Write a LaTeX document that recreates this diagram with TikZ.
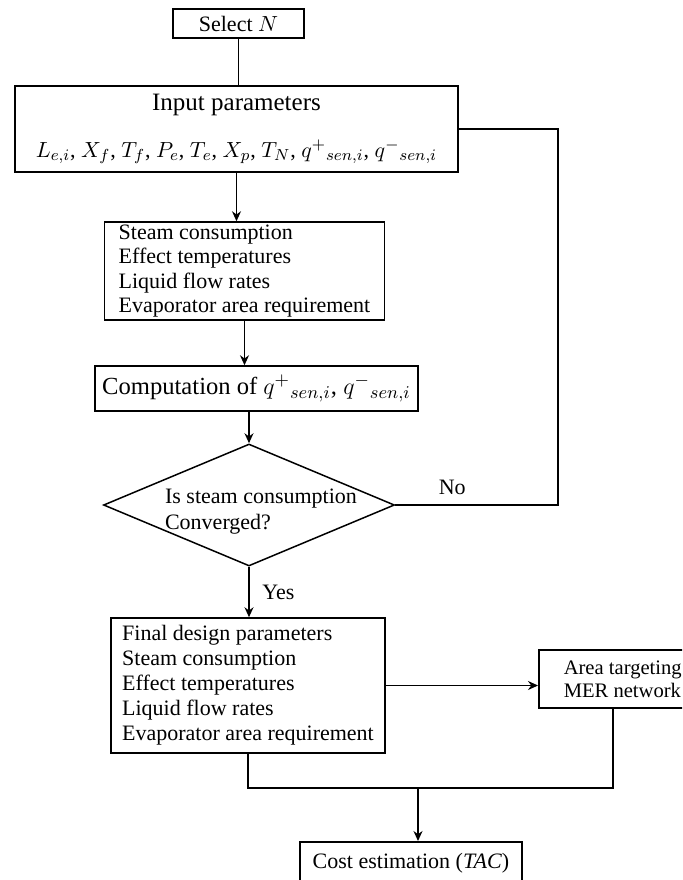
\documentclass[tikz,border=0pt]{standalone}
\usepackage{fontspec}
\setmainfont{Liberation Serif}
\usetikzlibrary{arrows.meta,shapes.geometric}

\tikzset{
  box/.style={draw,line width=0.75pt,inner sep=0pt},
  txtbox/.style={draw,line width=0.75pt,align=left,inner xsep=6.5pt,inner ysep=0pt},
  arr/.style={-{Stealth[length=5pt,width=4.5pt]},line width=0.75pt},
  con/.style={line width=0.75pt},
  lbl/.style={font=\fontsize{11}{13}\selectfont}
}

\begin{document}
\begin{tikzpicture}[x=0.5pt,y=-0.5pt]
          \clip (0,0) rectangle (682,880);
          \node[box,minimum width=65.5pt,minimum height=14.5pt,lbl] (sel) at (238.5,23.5) {Select $N$};
          \node[box,minimum width=221.5pt,minimum height=43pt,align=center,font=\fontsize{11}{23.5}\selectfont] (inp) at (236.5,129)
            {{\fontsize{12.5}{15}\selectfont Input parameters}\\ $L_{e,i}$,\ $X_f$,\ $T_f$,\ $P_e$,\ $T_e$,\ $X_p$,\ $T_N$,\ $q^{+}{}_{sen,i}$,\ $q^{-}{}_{sen,i}$};
          \node[txtbox,inner xsep=7pt,minimum height=49pt,font=\fontsize{11}{12.3}\selectfont] (steam) at (244.5,271)
            {Steam consumption\\Effect temperatures\\Liquid flow rates\\Evaporator area requirement};
          \node[box,minimum width=161.5pt,minimum height=22.5pt,font=\fontsize{12.3}{15}\selectfont] (comp) at (256.5,388.5)
            {Computation of $q^{+}{}_{sen,i}$, $q^{-}{}_{sen,i}$};
          \node[draw,line width=0.75pt,diamond,inner sep=0pt,minimum width=145.5pt,minimum height=61pt] (dia) at (249,505) {};
          \node[align=left,inner sep=0pt,lbl] (ask) at (261,512) {Is steam consumption\\Converged?};
          \node[txtbox,inner xsep=5.5pt,minimum height=67.5pt,font=\fontsize{11}{12.5}\selectfont] (fin) at (248,685.5)
            {Final design parameters\\Steam consumption\\Effect temperatures\\Liquid flow rates\\Evaporator area requirement};
          \node[txtbox,anchor=west,inner xsep=12.5pt,minimum height=29pt,font=\fontsize{10.3}{11.5}\selectfont] (area) at (538,679)
            {Area targeting\\MER network};
          \node[box,anchor=north,minimum width=111pt,minimum height=21pt,lbl] (cost) at (411,841) {Cost estimation (\textit{TAC})};

          \coordinate (loop) at (558,0);
          \coordinate (aj) at (613,0);
          \coordinate (join) at (418,788);

          \draw[con] (sel.south) -- (sel.south |- inp.north);
          \draw[arr] (inp.south) -- (inp.south |- steam.north);
          \draw[arr] (steam.south) -- (steam.south |- comp.north);
          \draw[arr] (dia.north |- comp.south) -- (dia.north);
          \draw[arr] (dia.south) -- (dia.south |- fin.north) node[midway,right,xshift=3pt,lbl]{Yes};
          \draw[con] (dia.east) -- (dia.east -| loop) node[pos=0.35,above,yshift=1.5pt,lbl]{No} |- (inp.east);
          \draw[arr] (fin.east) -- (fin.east -| area.west);
          \draw[con] (fin.south) |- (join) -| (area.south -| aj);
          \draw[arr] (join) -- (join |- cost.north);
\end{tikzpicture}
\end{document}
